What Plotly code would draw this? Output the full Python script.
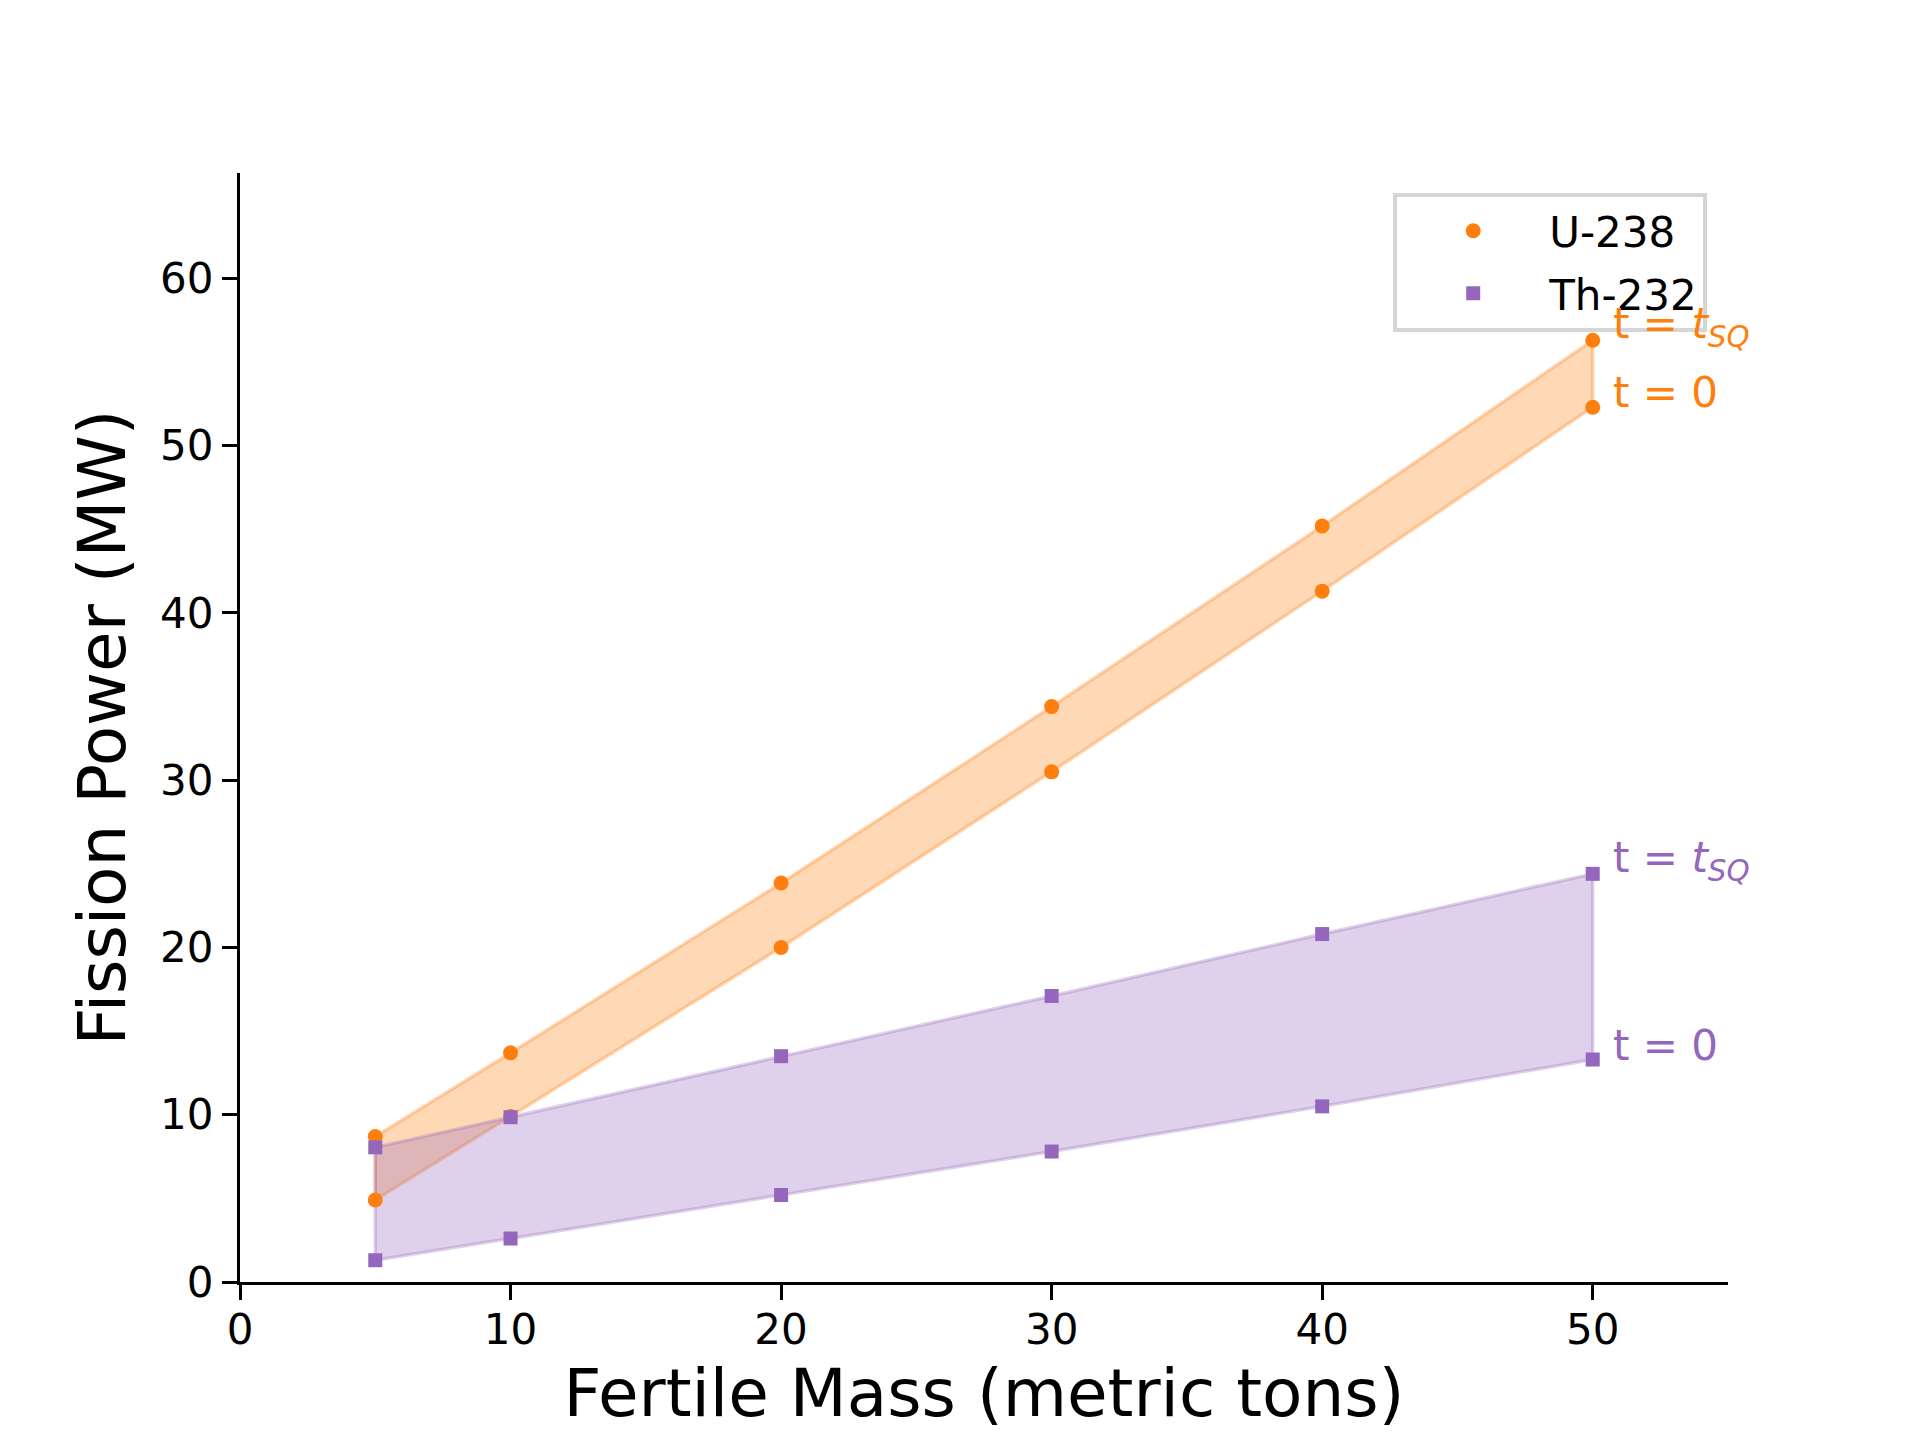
import plotly.graph_objects as go

# ---- data ----
mass = [5, 10, 20, 30, 40, 50]
u238_t0 = [4.9, 9.9, 20.0, 30.5, 41.3, 52.3]
u238_tsq = [8.7, 13.7, 23.85, 34.4, 45.2, 56.3]
th232_t0 = [1.3, 2.6, 5.2, 7.8, 10.5, 13.3]
th232_tsq = [8.05, 9.85, 13.5, 17.1, 20.8, 24.4]
series_names = ["U-238", "Th-232"]
label_t0 = "t = 0"
label_tsq = "t = <i>t<sub>SQ</sub></i>"
x_ticks = [0, 10, 20, 30, 40, 50]
y_ticks = [0, 10, 20, 30, 40, 50, 60]

ORANGE = "#ff7f0e"
PURPLE = "#9467bd"
FONT = "DejaVu Sans"

fig = go.Figure()

def band(lo, hi, color_rgba_fill, color_rgba_line):
    xs = mass + mass[::-1]
    ys = hi + lo[::-1]
    fig.add_trace(go.Scatter(
        x=xs + [xs[0]], y=ys + [ys[0]], mode="lines", fill="toself",
        fillcolor=color_rgba_fill,
        line=dict(color=color_rgba_line, width=3.5),
        showlegend=False, hoverinfo="skip"))

band(u238_t0, u238_tsq, "rgba(255,127,14,0.3)", "rgba(255,127,14,0.3)")
band(th232_t0, th232_tsq, "rgba(148,103,189,0.3)", "rgba(148,103,189,0.3)")

fig.add_trace(go.Scatter(
    x=mass + mass, y=u238_t0 + u238_tsq, mode="markers", name=series_names[0],
    legendgroup="u", legendrank=1,
    marker=dict(symbol="circle", size=15, color=ORANGE, line=dict(width=0))))
fig.add_trace(go.Scatter(
    x=mass + mass, y=th232_t0 + th232_tsq, mode="markers", name=series_names[1],
    legendgroup="th", legendrank=2,
    marker=dict(symbol="square", size=14, color=PURPLE, line=dict(width=0))))

annots = []
for yv, txt, col, ys in [(u238_tsq[-1], label_tsq, ORANGE, -16), (u238_t0[-1], label_t0, ORANGE, -12),
                         (th232_tsq[-1], label_tsq, PURPLE, -16), (th232_t0[-1], label_t0, PURPLE, -12)]:
    annots.append(dict(x=mass[-1], y=yv, xref="x", yref="y", text=txt, showarrow=False,
                       xanchor="left", yanchor="bottom", xshift=18, yshift=ys,
                       font=dict(family=FONT, size=42, color=col)))

axis_common = dict(
    showgrid=False, zeroline=False, showline=True, linecolor="black", linewidth=3.3,
    ticks="outside", ticklen=15, tickwidth=3.3, tickcolor="black",
    tickfont=dict(family=FONT, size=42, color="black"), mirror=False,
)

fig.update_layout(
    width=1912, height=1432,
    margin=dict(l=232, r=192, t=165, b=158, pad=0),
    paper_bgcolor="white", plot_bgcolor="white",
    font=dict(family=FONT, color="black"),
    xaxis=dict(range=[0, 55], tickvals=x_ticks, ticklabelstandoff=-7, **axis_common,
               title=dict(text="Fertile Mass (metric tons)", font=dict(family=FONT, size=66, color="black"),
                          standoff=18)),
    yaxis=dict(range=[0, 66.3], tickvals=y_ticks, **axis_common,
               title=dict(text="Fission Power (MW)", font=dict(family=FONT, size=66, color="black"),
                          standoff=13)),
    legend=dict(x=0.775, y=0.982, xanchor="left", yanchor="top",
                bgcolor="rgba(255,255,255,0.8)", bordercolor="#d5d5d5", borderwidth=4,
                font=dict(family=FONT, size=42, color="black"), itemwidth=142,
                traceorder="grouped", tracegroupgap=5),
    annotations=annots,
    showlegend=True,
)

fig.write_html("out.html")
